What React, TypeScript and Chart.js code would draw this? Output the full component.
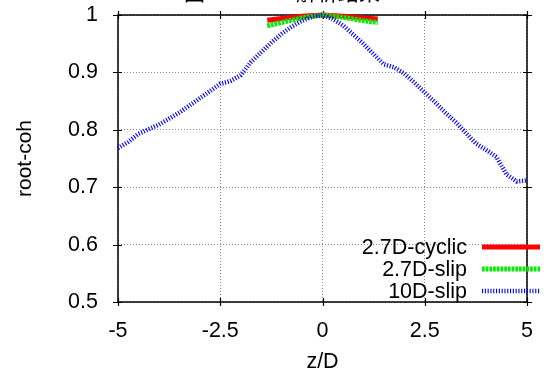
import React, { useEffect, useRef } from 'react';
import { Chart, registerables } from 'chart.js';

Chart.register(...registerables);

const FONT = "'Liberation Sans', Arial, Helvetica, sans-serif";

// Title (cut off at the top of the image in the reference)
const titleHead = '图';
const titleMid = '5-3';
const titleTail = '解析结果';

// Axis ticks
const xTicks = [-5, -2.5, 0, 2.5, 5];
const yTicks = [0.5, 0.6, 0.7, 0.8, 0.9, 1.0];

// Series labels
const seriesLabels = ['2.7D-cyclic', '2.7D-slip', '10D-slip'];

// 2.7D-cyclic
const cyclicZ = [-1.35, -1.0, -0.5, 0, 0.5, 1.0, 1.35];
const cyclicCoh = [0.991, 0.994, 0.998, 1.0, 0.998, 0.995, 0.993];

// 2.7D-slip
const slip27Z = [-1.35, -1.0, -0.5, 0, 0.5, 1.0, 1.35];
const slip27Coh = [0.981, 0.987, 0.995, 1.0, 0.996, 0.99, 0.987];

// 10D-slip
const slip10Z = [
  -5, -4.75, -4.5, -4.0, -3.5, -3.0, -2.5, -2.25, -2.0, -1.75, -1.5, -1.25, -1.0,
  -0.75, -0.5, -0.25, 0, 0.25, 0.5, 0.75, 1.0, 1.25, 1.5, 1.75, 2.0, 2.25, 2.5,
  2.75, 3.0, 3.25, 3.5, 3.75, 4.0, 4.25, 4.5, 4.75, 5.0,
];
const slip10Coh = [
  0.768, 0.779, 0.793, 0.809, 0.83, 0.855, 0.88, 0.885, 0.895, 0.918, 0.935, 0.952, 0.967,
  0.98, 0.99, 0.997, 1.0, 0.993, 0.982, 0.966, 0.95, 0.932, 0.914, 0.909, 0.898, 0.882, 0.865,
  0.848, 0.83, 0.814, 0.795, 0.776, 0.765, 0.753, 0.722, 0.71, 0.712,
];

const toPoints = (xs: number[], ys: number[]) => xs.map((x, i) => ({ x, y: ys[i] }));

const framePlugin = {
  id: 'frame',
  beforeDatasetsDraw(chart: any) {
    const { ctx, chartArea: a, scales } = chart;
    ctx.save();
    ctx.strokeStyle = '#000';
    ctx.lineWidth = 1.5;
    ctx.strokeRect(a.left, a.top, a.right - a.left, a.bottom - a.top);
    ctx.lineWidth = 1.2;
    ctx.beginPath();
    for (const v of xTicks) {
      const px = Math.round(scales.x.getPixelForValue(v)) + 0.5;
      ctx.moveTo(px, a.bottom - 4);
      ctx.lineTo(px, a.bottom + 4);
      ctx.moveTo(px, a.top - 4);
      ctx.lineTo(px, a.top + 4);
    }
    for (const v of yTicks) {
      const py = Math.round(scales.y.getPixelForValue(v)) + 0.5;
      ctx.moveTo(a.left - 5, py);
      ctx.lineTo(a.left + 4, py);
      ctx.moveTo(a.right - 4, py);
      ctx.lineTo(a.right + 5, py);
    }
    ctx.stroke();
    ctx.restore();
  },
};

const legendPlugin = {
  id: 'customLegend',
  afterDraw(chart: any) {
    const { ctx, chartArea: a } = chart;
    ctx.save();
    ctx.font = `21.5px ${FONT}`;
    ctx.textAlign = 'right';
    ctx.textBaseline = 'middle';
    chart.data.datasets.forEach((ds: any, i: number) => {
      const y = a.bottom - 55 + i * 22;
      ctx.fillStyle = '#000';
      ctx.fillText(ds.label, a.right - 60, y + 1);
      ctx.strokeStyle = ds.borderColor;
      ctx.lineWidth = ds.borderWidth;
      ctx.setLineDash(ds.borderDash || []);
      ctx.beginPath();
      ctx.moveTo(a.right - 45, y);
      ctx.lineTo(a.right + 13, y);
      ctx.stroke();
    });
    ctx.restore();
  },
};

const titlePlugin = {
  id: 'cutTitle',
  afterDraw(chart: any) {
    const { ctx } = chart;
    ctx.save();
    ctx.fillStyle = '#000';
    ctx.textBaseline = 'alphabetic';
    ctx.textAlign = 'left';
    ctx.font = `21px 'Noto Sans CJK SC', sans-serif`;
    ctx.fillText(titleHead, 184, 0);
    ctx.fillText(titleTail, 296, 0);
    ctx.font = `21px ${FONT}`;
    ctx.fillText(titleMid, 240, 0);
    ctx.restore();
  },
};

export default function App() {
  const ref = useRef<HTMLCanvasElement | null>(null);

  useEffect(() => {
    if (!ref.current) return;
    const chart = new Chart(ref.current, {
      type: 'line',
      data: {
        datasets: [
          {
            label: seriesLabels[0],
            data: toPoints(cyclicZ, cyclicCoh),
            borderColor: '#ff0000',
            borderWidth: 5,
            pointRadius: 0,
            fill: false,
            order: 2,
            clip: false,
          } as any,
          {
            label: seriesLabels[1],
            data: toPoints(slip27Z, slip27Coh),
            borderColor: '#00ee00',
            borderWidth: 5,
            borderDash: [2.7, 1],
            pointRadius: 0,
            fill: false,
            order: 1,
            clip: false,
          },
          {
            label: seriesLabels[2],
            data: toPoints(slip10Z, slip10Coh),
            borderColor: '#0000ff',
            borderWidth: 4.5,
            borderDash: [1.1, 1.7],
            pointRadius: 0,
            fill: false,
            order: 0,
            clip: false,
          },
        ],
      },
      options: {
        animation: false,
        responsive: false,
        devicePixelRatio: 1,
        layout: { padding: { left: 13, right: 23, top: 15, bottom: 0 } },
        plugins: {
          legend: { display: false },
          tooltip: { enabled: false },
          title: { display: false },
        },
        scales: {
          x: {
            type: 'linear',
            min: -5,
            max: 5,
            afterFit: (s: any) => {
              s.height = 69;
            },
            afterBuildTicks: (s: any) => {
              s.ticks = xTicks.map((v) => ({ value: v }));
            },
            ticks: {
              font: { size: 21.5, family: FONT },
              color: '#000',
              padding: 0,
              maxRotation: 0,
            },
            grid: {
              color: '#8a8a8a',
              lineWidth: 1,
              drawTicks: true,
              tickLength: 16,
              tickColor: 'rgba(0,0,0,0)',
            },
            border: { display: false, dash: [1, 2] },
            title: {
              display: true,
              text: 'z/D',
              color: '#000',
              font: { size: 21.5, family: FONT, lineHeight: 1 },
              padding: { top: 0, bottom: -2 },
            },
          },
          y: {
            type: 'linear',
            min: 0.5,
            max: 1,
            afterFit: (s: any) => {
              s.width = 105;
            },
            afterBuildTicks: (s: any) => {
              s.ticks = yTicks.map((v) => ({ value: v }));
            },
            ticks: {
              font: { size: 21.5, family: FONT },
              color: '#000',
              padding: 0,
              callback: (v: any) => (Number(v) === 1 ? '1' : Number(v).toFixed(1)),
            },
            grid: {
              color: '#8a8a8a',
              lineWidth: 1,
              drawTicks: true,
              tickLength: 20,
              tickColor: 'rgba(0,0,0,0)',
            },
            border: { display: false, dash: [1, 2] },
            title: {
              display: true,
              text: 'root-coh',
              color: '#000',
              font: { size: 21, family: FONT, lineHeight: 1.2 },
              padding: 0,
            },
          },
        },
      },
      plugins: [framePlugin, legendPlugin, titlePlugin],
    } as any);
    return () => chart.destroy();
  }, []);

  return (
    <div style={{ position: 'absolute', left: 0, top: 0, width: 550, height: 371, background: '#fff' }}>
      <canvas ref={ref} width={550} height={371} style={{ display: 'block' }} />
    </div>
  );
}
